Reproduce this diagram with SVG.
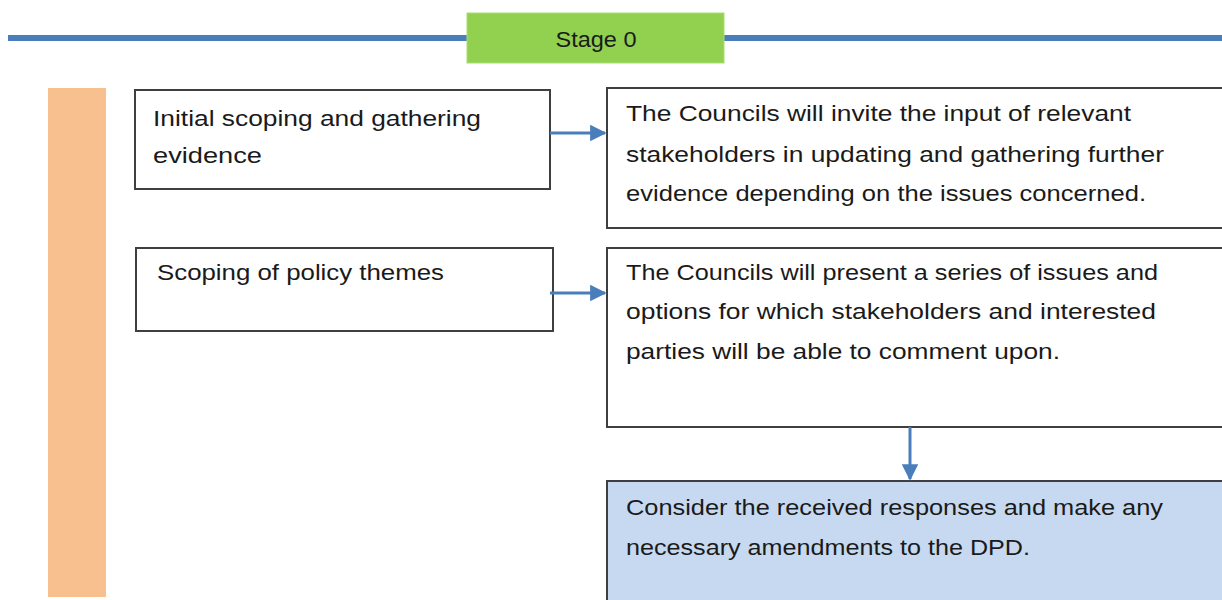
<svg xmlns="http://www.w3.org/2000/svg" width="1222" height="600" viewBox="0 0 1222 600">
<defs>
<style>
.box{fill:#fff;stroke:#3f3f3f;stroke-width:2}
.t{font-family:"Liberation Sans",Arial,sans-serif;font-size:22px;fill:#1a1a1a}
.c{stroke:#4a7ebb;stroke-width:3;fill:none}
</style>
<marker id="ah" viewBox="0 0 10 10" refX="9" refY="5" markerWidth="5.5" markerHeight="5.5" orient="auto" markerUnits="strokeWidth">
<path d="M0,0 L10,5 L0,10 z" fill="#4a7ebb"/>
</marker>
</defs>
<rect width="1222" height="600" fill="#fff"/>
<g id="timeline">
<line x1="8" y1="38" x2="1222" y2="38" stroke="#4a7ebb" stroke-width="6"/>
</g>
<g id="stage0">
<rect x="467" y="13" width="257" height="50" fill="#92d050" stroke="#a9dc74" stroke-width="1"/>
<text class="t" x="596" y="47" text-anchor="middle" textLength="81" lengthAdjust="spacingAndGlyphs">Stage 0</text>
</g>
<g id="sidebar">
<rect x="48" y="88" width="58" height="509" fill="#f9c08f"/>
</g>
<g id="initial">
<rect class="box" x="135" y="90" width="415" height="99"/>
<text class="t" x="153" y="126" textLength="328" lengthAdjust="spacingAndGlyphs">Initial scoping and gathering</text>
<text class="t" x="153" y="163" textLength="109" lengthAdjust="spacingAndGlyphs">evidence</text>
</g>
<g id="invite">
<rect class="box" x="607" y="88" width="625" height="140"/>
<text class="t" x="626" y="121" textLength="505" lengthAdjust="spacingAndGlyphs">The Councils will invite the input of relevant</text>
<text class="t" x="626" y="162" textLength="538" lengthAdjust="spacingAndGlyphs">stakeholders in updating and gathering further</text>
<text class="t" x="626" y="201" textLength="520" lengthAdjust="spacingAndGlyphs">evidence depending on the issues concerned.</text>
</g>
<g id="scoping">
<rect class="box" x="136" y="248" width="417" height="83"/>
<text class="t" x="157" y="280" textLength="287" lengthAdjust="spacingAndGlyphs">Scoping of policy themes</text>
</g>
<g id="present">
<rect class="box" x="607" y="248" width="625" height="179"/>
<text class="t" x="626" y="280" textLength="532" lengthAdjust="spacingAndGlyphs">The Councils will present a series of issues and</text>
<text class="t" x="626" y="319" textLength="530" lengthAdjust="spacingAndGlyphs">options for which stakeholders and interested</text>
<text class="t" x="626" y="359" textLength="434" lengthAdjust="spacingAndGlyphs">parties will be able to comment upon.</text>
</g>
<g id="consider">
<rect x="607" y="481" width="625" height="130" fill="#c6d9f1" stroke="#3f3f3f" stroke-width="2"/>
<text class="t" x="626" y="515" textLength="537" lengthAdjust="spacingAndGlyphs">Consider the received responses and make any</text>
<text class="t" x="626" y="555" textLength="404" lengthAdjust="spacingAndGlyphs">necessary amendments to the DPD.</text>
</g>
<g id="connectors">
<line class="c" x1="550" y1="133" x2="605" y2="133" marker-end="url(#ah)"/>
<line class="c" x1="550" y1="293" x2="605" y2="293" marker-end="url(#ah)"/>
<line class="c" x1="910" y1="427" x2="910" y2="479" marker-end="url(#ah)"/>
</g>
</svg>
